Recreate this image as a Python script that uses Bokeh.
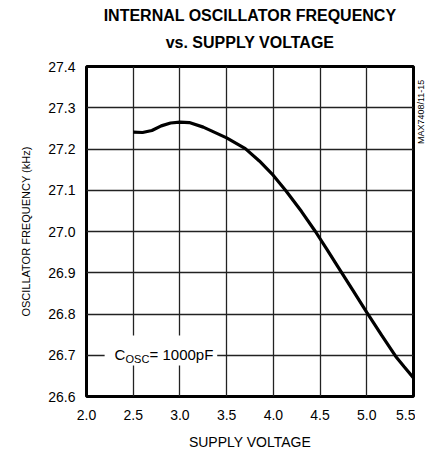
import math
from bokeh.plotting import figure
from bokeh.layouts import row
from bokeh.models import Label, FixedTicker, Range1d, Title, BoxAnnotation
from bokeh.embed import file_html
from bokeh.resources import INLINE

# ---- data ----
supply_voltage = [2.5, 2.6, 2.7, 2.8, 2.9, 3.0, 3.1, 3.25, 3.5, 3.7, 3.85, 4.0, 4.13,
                  4.3, 4.45, 4.57, 4.69, 4.85, 5.0, 5.16, 5.31, 5.4, 5.5]
osc_freq_khz = [27.241, 27.240, 27.245, 27.256, 27.263, 27.265, 27.264, 27.253, 27.227,
                27.201, 27.171, 27.136, 27.100, 27.049, 27.000, 26.958, 26.915, 26.858,
                26.804, 26.748, 26.697, 26.672, 26.645]
x_ticks = [2.0, 2.5, 3.0, 3.5, 4.0, 4.5, 5.0, 5.5]
y_ticks = [26.6, 26.7, 26.8, 26.9, 27.0, 27.1, 27.2, 27.3, 27.4]

title_lines = ["INTERNAL OSCILLATOR FREQUENCY", "vs. SUPPLY VOLTAGE"]
x_title = "SUPPLY VOLTAGE"
y_title = "OSCILLATOR FREQUENCY (kHz)"
side_note = "MAX7408/11-15"
cap_main, cap_sub, cap_value = "C", "OSC", "= 1000pF"

FONT = "Liberation Sans"
H = 452

p = figure(width=415, height=H, output_backend="svg", toolbar_location=None,
           x_range=Range1d(2.0, 5.5), y_range=Range1d(26.6, 27.4),
           min_border_left=86, min_border_right=2, min_border_top=66, min_border_bottom=56)

p.title.text = ""
p.title.visible = False
p.outline_line_color = "black"
p.outline_line_width = 3
p.background_fill_color = "white"
p.border_fill_color = "white"

for ax in (p.xaxis[0], p.yaxis[0]):
    ax.axis_line_color = None
    ax.major_tick_line_color = None
    ax.minor_tick_line_color = None
    ax.major_label_text_font = FONT
    ax.major_label_text_font_size = "14px"
    ax.major_label_text_color = "black"
    ax.axis_label_text_color = "black"

p.xaxis[0].ticker = FixedTicker(ticks=x_ticks)
p.yaxis[0].ticker = FixedTicker(ticks=y_ticks)
p.xaxis[0].major_label_overrides = {t: f"{t:.1f}" for t in x_ticks}
p.yaxis[0].major_label_overrides = {t: f"{t:.1f}" for t in y_ticks}
p.xaxis[0].major_label_standoff = 7
p.yaxis[0].major_label_standoff = 5

p.xaxis[0].axis_label = x_title
p.xaxis[0].axis_label_text_font = FONT
p.xaxis[0].axis_label_text_font_size = "14px"
p.xaxis[0].axis_label_text_font_style = "normal"
p.xaxis[0].axis_label_standoff = 11

p.xgrid[0].ticker = FixedTicker(ticks=x_ticks)
p.ygrid[0].ticker = FixedTicker(ticks=y_ticks)
for g in (p.xgrid[0], p.ygrid[0]):
    g.grid_line_color = "#222222"
    g.grid_line_width = 1.3
    g.grid_line_alpha = 1.0

p.line(supply_voltage, osc_freq_khz, line_color="black", line_width=3.2)

# annotation C_OSC = 1000pF with white box breaking the gridlines
p.add_layout(BoxAnnotation(left=2.194, right=3.399, bottom=26.675, top=26.748,
                           fill_color="white", fill_alpha=1.0, line_color=None, level="overlay"))
lab_kw = dict(x=2.30, y=26.7, text_font=FONT, text_color="black",
              text_baseline="alphabetic", text_align="left", level="overlay")
p.add_layout(Label(text=cap_main, text_font_size="15px", x_offset=0, y_offset=1, **lab_kw))
p.add_layout(Label(text=cap_sub, text_font_size="11px", x_offset=11, y_offset=-4, **lab_kw))
p.add_layout(Label(text=cap_value, text_font_size="15px", x_offset=35, y_offset=1, **lab_kw))

# titles (outside the frame)
p.add_layout(Title(text=title_lines[1], text_font=FONT, text_font_style="bold",
                   text_font_size="16px", align="center", standoff=31, text_color="black"), "above")
try:
    t1 = Title(text=title_lines[0], text_font=FONT, text_font_style="bold",
               text_font_size="16px", align="center", standoff=-14, text_color="black")
except Exception:
    t1 = Title(text=title_lines[0], text_font=FONT, text_font_style="bold",
               text_font_size="16px", align="center", standoff=0, text_color="black")
p.add_layout(t1, "above")
p.add_layout(Title(text=y_title, text_font=FONT, text_font_style="normal",
                   text_font_size="11px", align="center", offset=18, standoff=27,
                   text_color="black"), "left")

# narrow strip on the right carrying the vertical side note (reads bottom-to-top)
side = figure(width=16, height=H, output_backend="svg", toolbar_location=None,
              x_range=Range1d(0, 16), y_range=Range1d(0, H),
              x_axis_type=None, y_axis_type=None,
              min_border_left=0, min_border_right=0, min_border_top=0, min_border_bottom=0)
side.outline_line_color = None
side.background_fill_color = "white"
side.border_fill_color = "white"
side.grid.visible = False
side.add_layout(Label(x=5, y=H - 18, text=side_note, angle=math.pi / 2,
                      text_align="right", text_baseline="middle",
                      text_font=FONT, text_font_size="9px", text_color="black"))

layout = row(p, side, spacing=0)

open("out.html", "w").write(file_html(layout, INLINE))
